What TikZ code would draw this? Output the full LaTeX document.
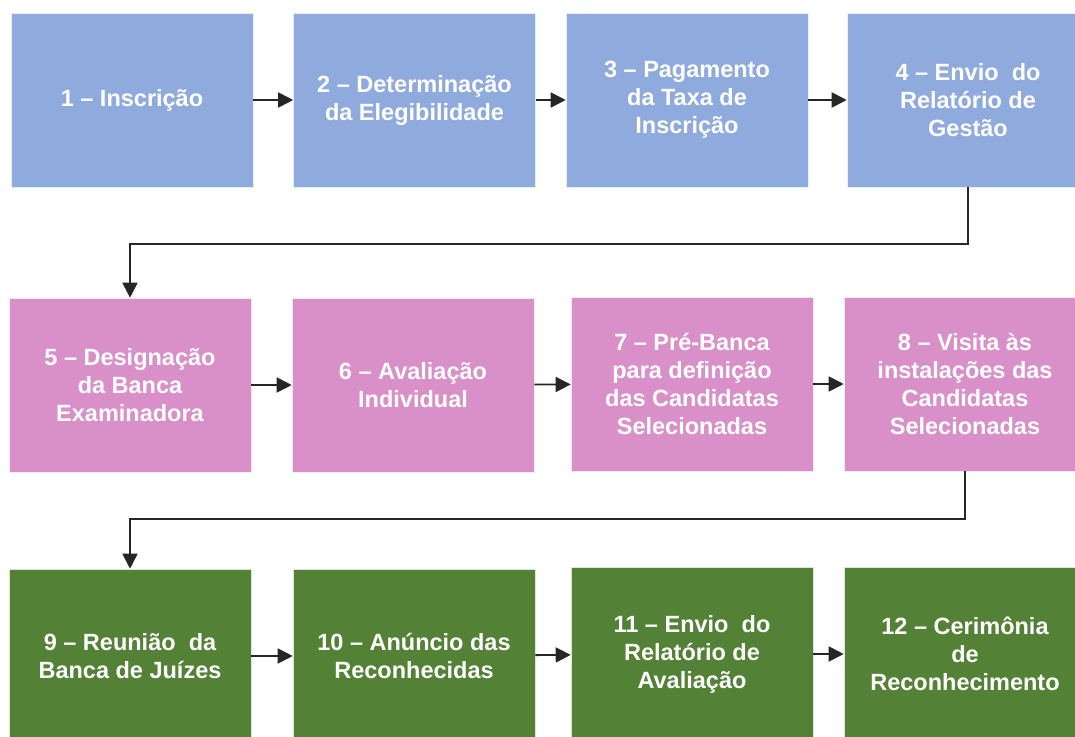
\documentclass[tikz,border=0pt]{standalone}
\usepackage{fontspec}
\setmainfont{Liberation Sans}
\usetikzlibrary{arrows.meta}
\definecolor{cblue}{HTML}{8FAADC}
\definecolor{cpink}{HTML}{D990C9}
\definecolor{cgreen}{HTML}{538135}
\tikzset{
  stepbox/.style={draw=white!80!#1, line width=0.6pt, fill=#1, minimum width=242pt, minimum height=174pt,
    inner sep=0pt, align=center, text=white,
    font=\fontsize{23.5}{28}\selectfont\bfseries},
  flow/.style={line width=1.8pt, draw=black!85, -{Triangle[length=15pt,width=15pt]}},
}
\begin{document}
\begin{tikzpicture}[x=1pt,y=-1pt]
\useasboundingbox[fill=white] (0,0) rectangle (1075,736);
% row 1
\node[stepbox=cblue] (n1) at (132,100) {1 -- Inscrição};
\node[stepbox=cblue] (n2) at (414.5,100) {2 -- Determinação\\da Elegibilidade};
\node[stepbox=cblue] (n3) at (687,100) {3 -- Pagamento\\da Taxa de\\Inscrição};
\node[stepbox=cblue] (n4) at (968,100) {4 -- Envio\ \ do\\Relatório de\\Gestão};
% row 2
\node[stepbox=cpink] (n5) at (130,385) {5 -- Designação\\da Banca\\Examinadora};
\node[stepbox=cpink] (n6) at (413,385) {6 -- Avaliação\\Individual};
\node[stepbox=cpink] (n7) at (692,384) {7 -- Pré-Banca\\para definição\\das Candidatas\\Selecionadas};
\node[stepbox=cpink] (n8) at (965,384) {8 -- Visita às\\instalações das\\Candidatas\\Selecionadas};
% row 3
\node[stepbox=cgreen] (n9) at (130,656) {9 -- Reunião\ \ da\\Banca de Juízes};
\node[stepbox=cgreen] (n10) at (414,656) {10 -- Anúncio das\\Reconhecidas};
\node[stepbox=cgreen] (n11) at (692,654) {11 -- Envio\ \ do\\Relatório de\\Avaliação};
\node[stepbox=cgreen] (n12) at (965,654) {12 -- Cerimônia\\de\\Reconhecimento};
% connectors
\draw[flow] (n1) -- (n2);
\draw[flow] (n2) -- (n3);
\draw[flow] (n3) -- (n4);
\draw[flow] (n5) -- (n6);
\draw[flow] (n6) -- (n7);
\draw[flow] (n7) -- (n8);
\draw[flow] (n9) -- (n10);
\draw[flow] (n10) -- (n11);
\draw[flow] (n11) -- (n12);
\coordinate (k1) at (130,244);
\coordinate (k2) at (130,519);
\draw[flow] (n4.south) |- (k1) -- (n5.north);
\draw[flow] (n8.south) |- (k2) -- (n9.north);
\end{tikzpicture}
\end{document}
